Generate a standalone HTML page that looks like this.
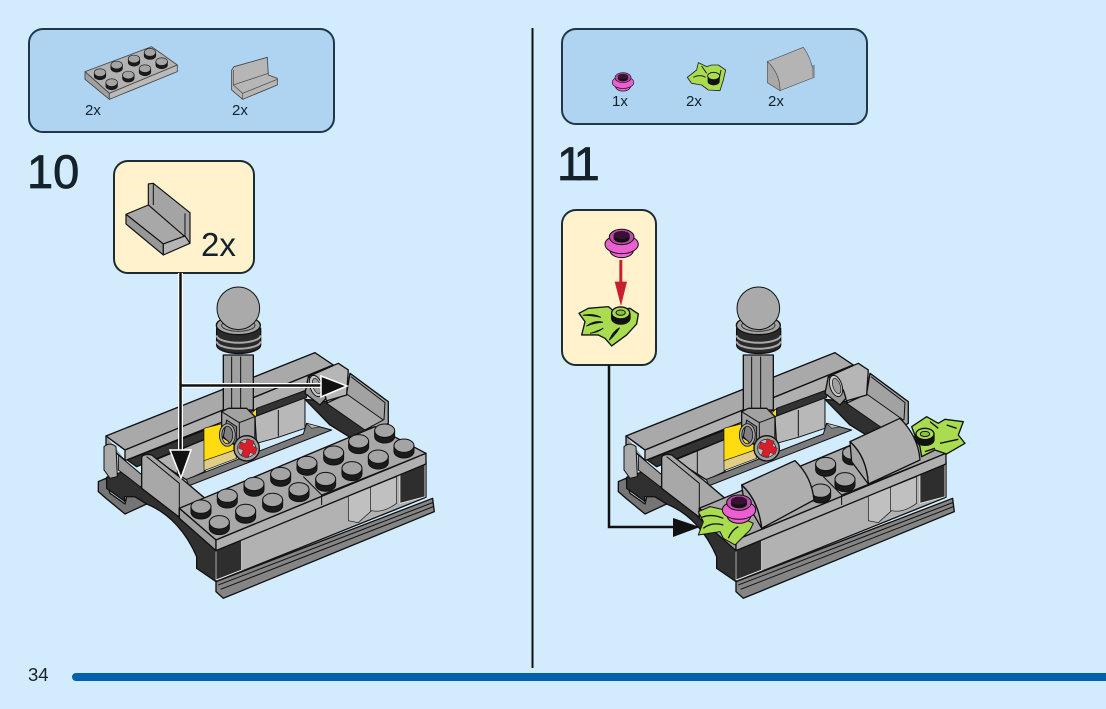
<!DOCTYPE html>
<html><head><meta charset="utf-8"><style>
html,body{margin:0;padding:0;background:#d3ecfd;width:1106px;height:709px;overflow:hidden}
svg{display:block}
text{font-family:"Liberation Sans",sans-serif;fill:#15222b}
</style></head><body>
<svg width="1106" height="709" viewBox="0 0 1106 709" xmlns="http://www.w3.org/2000/svg">
<defs>
<g id="stud"><path d="M-30 0V17A30 20 0 0 0 30 17V0Z" fill="#1b1b1b" stroke="#111" stroke-width="3"/><ellipse rx="30" ry="20" fill="#a4a4a4" stroke="#111" stroke-width="3"/></g>
<g id="flower">
<ellipse cx="0" cy="26" rx="35" ry="22" fill="#f060d0" stroke="#111" stroke-width="3"/>
<ellipse cx="0" cy="8" rx="50" ry="28" fill="#ec5fd0" stroke="#111" stroke-width="3"/>
<ellipse cx="0" cy="-14" rx="37" ry="23" fill="#c04aae" stroke="#111" stroke-width="3"/>
<path d="M-24 -20V-10A24 13 0 0 0 24 -10V-20Z" fill="#111"/>
<ellipse cx="0" cy="-20" rx="24" ry="12" fill="#3a1034"/>
</g>
<g id="leaf" stroke="#111" stroke-width="4" stroke-linejoin="round">
<path d="M-93 -32L-65 -47L-5 -52L10 -40L60 -47L85 -30L80 0L50 33L5 66L-15 43L-35 33L-85 33L-75 -7Z" fill="#a9dc4f"/>
<path d="M-80 -26Q-50 -32 -28 -20Q-55 -26 -80 -26ZM-70 6Q-45 -12 -22 -5Q-45 -4 -70 6ZM-2 48Q10 22 28 12Q18 30 -2 48ZM-60 28Q-35 25 -20 12" fill="#111" stroke-width="3"/>
<path d="M5 -32V-17A27 17 0 0 0 60 -17V-32Z" fill="#111"/>
<ellipse cx="32" cy="-33" rx="27" ry="18" fill="#a9dc4f"/>
<ellipse cx="32" cy="-34" rx="14" ry="8" fill="#8fc23f" stroke-width="3"/>
</g>
<g id="base" stroke="#111" stroke-width="4" stroke-linejoin="round">
<!-- foot -->
<path d="M25 605L48 595L60 640L105 672L110 650L135 650L170 672L105 702L48 655L25 635Z" fill="#757575"/>
<path d="M50 592L100 575L268 700L378 810L378 905L320 865L320 830C290 760 240 700 170 672L135 650L103 650L105 665L50 625Z" fill="#303030"/>
<!-- rear beam -->
<path d="M48 468L675 218L730 255L105 510Z" fill="#a9a9a9"/>
<path d="M48 468L105 510V542L400 425L650 332L730 282V255L105 510Z" fill="#b0b0b0"/>
<path d="M48 468V495L105 540" fill="#9a9a9a"/>
<!-- dark strip and wall -->
<path d="M112 540L345 450V478L140 560Z" fill="#333"/>
<path d="M195 540L345 478V575L290 600Z" fill="#b2b2b2"/>
<path d="M262 510V590" fill="none" stroke-width="3"/>
<path d="M342 445L420 425L435 510L342 545Z" fill="#ffdc12" stroke-width="2"/>
<path d="M342 542L435 510L440 535L342 572Z" fill="#e2cd85" stroke-width="2"/>
<path d="M480 405L500 385V410Z" fill="#ffdc12" stroke-width="2"/>
<path d="M495 410L645 352V445L565 472L500 490Z" fill="#b8b8b8" stroke-width="3"/>
<path d="M565 390V470" fill="none" stroke-width="3"/>
<path d="M500 385L650 330V352L500 408Z" fill="#333" stroke-width="3"/>
<!-- floor strip -->
<path d="M290 598L640 462L650 430L725 450L295 618Z" fill="#7c7c7c" stroke-width="3"/>
<!-- left column -->
<path d="M85 525L150 580L190 610L150 620L105 585L85 570Z" fill="#9c9c9c" stroke-width="3"/>
<path d="M42 500Q60 485 78 500L82 590L60 595L42 570Z" fill="#aaa" stroke-width="3"/>
<!-- right seat and wall -->
<path d="M645 358L720 435L790 478L850 450L710 365Z" fill="#303030"/>
<path d="M650 430L690 440L665 445Z" fill="#bbb" stroke-width="2"/>
<path d="M780 280L895 365V430L860 450L710 370L770 340Z" fill="#a2a2a2"/>
<path d="M710 370L770 342L880 420L825 450Z" fill="#ababab" stroke-width="3"/>
<path d="M783 290L885 368L882 420" fill="none" stroke-width="3"/>
<path d="M655 290L745 250L775 270L770 345L712 362L695 352Z" fill="#b6b6b6"/>
<path d="M645 340L655 290L700 330L708 355L690 375Z" fill="#999"/>
<ellipse cx="678" cy="318" rx="18" ry="33" transform="rotate(-18 678 318)" fill="#c9c9c9" stroke-width="3"/>
<ellipse cx="680" cy="318" rx="11" ry="24" transform="rotate(-18 680 318)" fill="#a0a0a0" stroke-width="2"/>
<!-- pole -->
<path d="M400 225H490V390H400Z" fill="#a0a0a0"/>
<path d="M425 230V385M452 230V385" fill="none" stroke-width="3"/>
<path d="M380 145V195A65 25 0 0 0 512 195V145Z" fill="#2a2a2a"/>
<path d="M380 166A65 22 0 0 0 512 166M380 184A65 22 0 0 0 512 184" fill="none" stroke="#a8a8a8" stroke-width="6"/>
<ellipse cx="445" cy="136" rx="66" ry="28" fill="#a4a4a4"/>
<ellipse cx="445" cy="136" rx="50" ry="18" fill="none" stroke="#333" stroke-width="3"/>
<circle cx="445" cy="85" r="64" fill="#aaa" stroke-width="3"/>
<!-- clip -->
<path d="M395 395L415 385L470 385L495 410V490L450 505L395 470Z" fill="#a2a2a2"/>
<path d="M395 395L448 428L495 410M448 428V500" fill="none" stroke-width="3"/>
<path d="M410 420L440 440V490H420L400 470Z" fill="#808080" stroke-width="3"/>
<ellipse cx="412" cy="465" rx="20" ry="30" fill="none" stroke="#111" stroke-width="10"/>
<ellipse cx="412" cy="465" rx="20" ry="30" fill="none" stroke="#aaa" stroke-width="5"/>
<circle cx="470" cy="505" r="38" fill="#a0a0a0"/>
<circle cx="470" cy="505" r="27" fill="#bcbcbc" stroke-width="2"/>
<path d="M462 478H484V494H500V514H484V530H462V514H447V494H462Z" fill="#d91e2b" transform="rotate(20 472 505)" stroke-width="1"/>
<!-- front left panel -->
<path d="M155 530Q165 520 185 525L280 600L345 655L280 680L268 685V712L155 625Z" fill="#a8a8a8"/>
<path d="M170 530L268 610V690" fill="none" stroke-width="3"/>
<!-- rail -->
<path d="M378 905L1028 655L1033 695L400 955L378 935Z" fill="#858585"/>
<path d="M385 915L1028 668M392 928L1030 680" fill="none" stroke-width="3"/>
<!-- front wall -->
<path d="M378 805L1008 545V652L378 905Z" fill="#b2b2b2"/>
<path d="M378 810L455 780V870L378 900Z" fill="#2e2e2e" stroke="#fff" stroke-width="2"/>
<path d="M930 585L1005 552V650L930 670Z" fill="#2e2e2e" stroke="#fff" stroke-width="2"/>
<path d="M775 648L920 590V670Q880 700 845 692L805 728L775 722Z" fill="#c0c0c0" stroke-width="2"/>
<path d="M842 620V695" fill="none" stroke-width="2"/>
<!-- plate -->
<path d="M268 685L855 440L1008 520L378 780Z" fill="#a8a8a8"/>
<path d="M268 685L378 780V812L268 715Z" fill="#a0a0a0"/>
<path d="M378 780L1008 520V552L378 812Z" fill="#b0b0b0"/>
<path d="M640 590L695 645V675M695 645L1008 520" fill="none" stroke-width="3"/>
</g>
</defs>

<!-- inset boxes -->
<rect x="29" y="29" width="305" height="103" rx="14" fill="#aed4f1" stroke="#1f3747" stroke-width="2"/>
<rect x="562" y="29" width="305" height="95" rx="14" fill="#aed4f1" stroke="#1f3747" stroke-width="2"/>
<rect x="114" y="161" width="140" height="112" rx="14" fill="#fff2cd" stroke="#1f2b33" stroke-width="2"/>
<rect x="562" y="210" width="94" height="155" rx="14" fill="#fff2cd" stroke="#1f2b33" stroke-width="2"/>

<!-- divider and bar -->
<rect x="531.5" y="28" width="2" height="640" fill="#111"/>
<rect x="72" y="673" width="1040" height="8" rx="4" fill="#0060ac"/>

<!-- text -->
<text x="27" y="188" font-size="47" stroke="#15222b" stroke-width=".8">10</text>
<text x="557" y="180" font-size="47" letter-spacing="-6" stroke="#15222b" stroke-width=".8">11</text>
<text x="28" y="681" font-size="18.500">34</text>
<text x="85" y="115" font-size="15">2x</text>
<text x="232" y="115" font-size="15">2x</text>
<text x="612" y="106" font-size="15">1x</text>
<text x="686" y="106" font-size="15">2x</text>
<text x="768" y="106" font-size="15">2x</text>
<text x="201" y="256" font-size="33">2x</text>

<!-- parts list 10 -->
<g transform="translate(20,20) scale(.3333)" stroke="#444" stroke-width="2.500" stroke-linejoin="round">
<path d="M195 155L395 80L472 135L268 220Z" fill="#b2b2b2"/>
<path d="M195 155V178L268 238V220Z" fill="#a0a0a0"/>
<path d="M268 220L472 135V155L268 238Z" fill="#bababa"/>
<g transform="translate(240,158) scale(.58)"><use href="#stud"/></g>
<g transform="translate(290,135) scale(.58)"><use href="#stud"/></g>
<g transform="translate(342,117) scale(.58)"><use href="#stud"/></g>
<g transform="translate(390,97) scale(.58)"><use href="#stud"/></g>
<g transform="translate(275,188) scale(.58)"><use href="#stud"/></g>
<g transform="translate(325,165) scale(.58)"><use href="#stud"/></g>
<g transform="translate(375,146) scale(.58)"><use href="#stud"/></g>
<g transform="translate(425,125) scale(.58)"><use href="#stud"/></g>
<path d="M635 150L642 140L742 112L745 165L772 175V195L668 238L635 210Z" fill="#b6b6b6"/>
<path d="M640 195L745 160M640 150V195L668 220L772 178M668 220V238" fill="none" stroke-width="2"/>
</g>
<!-- callout panel -->
<g transform="translate(20,20) scale(.3333)" stroke="#111" stroke-width="3.500" stroke-linejoin="round">
<path d="M385 492L400 490L510 578V670L495 650L385 565Z" fill="#a4a4a4"/>
<path d="M318 583L385 555L495 650L430 672Z" fill="#a8a8a8"/>
<path d="M318 583V612L430 705V672Z" fill="#989898"/>
<path d="M430 672L495 648L510 670L430 705Z" fill="#b4b4b4"/>
<path d="M400 490V555M495 580V650" fill="none" stroke-width="3"/>
</g>

<!-- parts list 11 -->
<g transform="translate(555,20) scale(.3333)">
<g transform="translate(204,182) scale(.65)"><use href="#flower"/></g>
<path d="M397 172L425 150L430 128L455 140L470 135L490 135L512 150L505 180L495 212L460 210L440 195L410 190Z" fill="#a9dc4f" stroke="#222" stroke-width="2.500" stroke-linejoin="round"/>
<path d="M415 172Q435 162 452 172M440 138L455 160M498 150L490 190" fill="none" stroke="#222" stroke-width="3"/>
<path d="M458 168V185A18 11 0 0 0 494 185V168Z" fill="#111"/>
<ellipse cx="476" cy="168" rx="18" ry="11" fill="#a9dc4f" stroke="#111" stroke-width="2.500"/>
<path d="M637 125L745 82Q770 115 778 172L675 212Q675 160 637 125Z" fill="#b4b4b4" stroke="#555" stroke-width="2"/>
<path d="M637 125V188L675 212Q675 160 637 125Z" fill="#a8a8a8" stroke="#555" stroke-width="2"/>
<rect x="772" y="135" width="7" height="35" fill="#7c8a96"/>
</g>
<!-- callout 11 parts -->
<g transform="translate(555,20) scale(.3333)">
<g transform="translate(200,665)"><use href="#flower"/></g>
<g transform="translate(165,912)"><use href="#leaf"/></g>
<rect x="193" y="720" width="9" height="80" fill="#c9202e"/>
<path d="M179 785L216 785L198 858Z" fill="#c9202e"/>
</g>

<!-- left model -->
<g transform="translate(90,280) scale(.3333)">
<use href="#base"/>
<use href="#stud" x="884" y="452"/>
<use href="#stud" x="806" y="484"/>
<use href="#stud" x="942" y="497"/>
<use href="#stud" x="731" y="518"/>
<use href="#stud" x="865" y="530"/>
<use href="#stud" x="651" y="549"/>
<use href="#stud" x="786" y="565"/>
<use href="#stud" x="572" y="582"/>
<use href="#stud" x="707" y="597"/>
<use href="#stud" x="492" y="612"/>
<use href="#stud" x="627" y="628"/>
<use href="#stud" x="412" y="647"/>
<use href="#stud" x="548" y="660"/>
<use href="#stud" x="333" y="680"/>
<use href="#stud" x="467" y="693"/>
<use href="#stud" x="388" y="727"/>
</g>

<!-- right model -->
<g transform="translate(610,280) scale(.3333)">
<use href="#base"/>
<use href="#stud" x="728" y="518"/>
<use href="#stud" x="647" y="552"/>
<use href="#stud" x="705" y="598"/>
<use href="#stud" x="632" y="632"/>
<g stroke="#111" stroke-width="4" stroke-linejoin="round">
<path d="M905 440L950 410L985 430L1005 418L1060 425L1045 465L1065 490L1010 522L975 510L935 530L930 500L920 480Z" fill="#a9dc4f"/>
<path d="M960 425L985 445M1010 435L1040 445M990 490L1045 478M945 515L975 505" fill="none" stroke-width="4"/>
<path d="M918 462V480A27 16 0 0 0 972 480V462Z" fill="#111"/>
<ellipse cx="945" cy="462" rx="27" ry="17" fill="#a9dc4f"/>
<ellipse cx="945" cy="462" rx="14" ry="8" fill="#8fc23f" stroke-width="3"/>
<path d="M720 485L870 415Q925 470 930 540L775 612Q770 530 720 485Z" fill="#aeaeae"/>
<path d="M720 485L725 545L775 612Q770 530 720 485Z" fill="#a4a4a4"/>
<path d="M395 615L555 542Q605 590 612 660L455 745Q445 660 395 615Z" fill="#aeaeae"/>
<path d="M395 615L400 650L455 745Q445 660 395 615Z" fill="#a4a4a4"/>
<path d="M265 695L300 680L345 690L430 730L420 750L375 795L340 775L330 755L265 765L280 725Z" fill="#a9dc4f" stroke-width="3"/>
<path d="M275 712Q305 700 340 715M280 745Q305 725 340 735M355 775Q365 750 385 740" fill="none" stroke-width="4"/>
</g>
<g transform="translate(387,682)"><use href="#flower"/></g>
</g>

<!-- arrows left -->
<g fill="none">
<path d="M180.500 273V455M180.500 385.500H330" stroke="#fff" stroke-width="5"/>
<path d="M180.500 273V455M180.500 385.500H330" stroke="#111" stroke-width="2.500"/>
</g>
<path d="M170 450H191L181 478Z" fill="#111" stroke="#fff" stroke-width="1.500"/>
<path d="M321 376L347 386L321 397Z" fill="#111" stroke="#fff" stroke-width="1.500"/>

<!-- arrow right -->
<path d="M609 365V527H676" fill="none" stroke="#111" stroke-width="2.500"/>
<path d="M673 518L700 527L673 537Z" fill="#111"/>
</svg>
</body></html>
